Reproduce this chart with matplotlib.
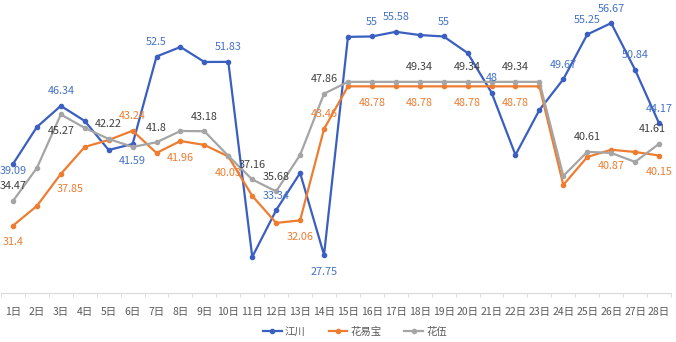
import matplotlib
matplotlib.use("Agg")
import matplotlib.pyplot as plt
import numpy as np

plt.rcParams['font.family'] = ['Noto Sans CJK SC', 'DejaVu Sans']

days = ["%d日" % d for d in range(1, 29)]
series_names = ["江川", "花易宝", "花伍"]

jiangchuan = [39.09, 43.71, 46.34, 44.46, 40.84, 41.59, 52.5, 53.69, 51.82, 51.83,
              27.5, 33.34, 37.97, 27.75, 54.95, 55.0, 55.58, 55.18, 55.0, 52.94,
              48.0, 40.22, 45.83, 49.67, 55.25, 56.67, 50.84, 44.17]
huayibao = [31.4, 33.86, 37.85, 41.22, 42.09, 43.24, 40.47, 41.96, 41.47, 40.03,
            35.11, 31.74, 32.06, 43.46, 48.78, 48.78, 48.78, 48.78, 48.78, 48.78,
            48.78, 48.78, 48.78, 36.48, 39.97, 40.87, 40.59, 40.15]
huawu = [34.47, 38.6, 45.27, 43.59, 42.22, 41.22, 41.8, 43.21, 43.18, 40.1,
         37.16, 35.68, 40.22, 47.86, 49.34, 49.34, 49.34, 49.34, 49.34, 49.34,
         49.34, 49.34, 49.34, 37.6, 40.61, 40.47, 39.35, 41.61]

# which days carry a data label (1-based day, 'a' above / 'b' below / 'n' near)
labels_jc = [(1, 'n'), (3, 'a'), (6, 'b'), (7, 'a'), (10, 'a'), (12, 'a'), (14, 'b'),
             (16, 'a'), (17, 'a'), (19, 'a'), (21, 'a'), (24, 'a'), (25, 'a'),
             (26, 'a'), (27, 'a'), (28, 'a')]
labels_hyb = [(1, 'b'), (3, 'r'), (6, 'a'), (8, 'b'), (10, 'b'), (13, 'b'), (14, 'a'),
              (16, 'b'), (18, 'b'), (20, 'b'), (22, 'b'), (26, 'b'), (28, 'b')]
labels_hw = [(1, 'a'), (3, 'b'), (5, 'a'), (7, 'a'), (9, 'a'), (11, 'a'), (12, 'a'),
             (14, 'a'), (18, 'a'), (20, 'a'), (22, 'a'), (25, 'a'), (28, 'l')]
offsets = {'a': (0, 10.5), 'b': (0, -12), 'n': (0, -5), 'r': (6.5, -10.5), 'l': (-4.5, 10.5)}

line_colors = ["#3B5FC0", "#ED7D31", "#A5A5A5"]
text_colors = ["#4472C4", "#ED7D31", "#404040"]

fig = plt.figure(figsize=(6.76, 3.42), dpi=100)
ax = fig.add_axes([1 / 676, 49 / 342, 670 / 676, 292.6 / 342])
x = np.arange(len(days))

for vals, lab, lc, tc, name in zip([jiangchuan, huayibao, huawu],
                                   [labels_jc, labels_hyb, labels_hw],
                                   line_colors, text_colors, series_names):
    ax.plot(x, vals, color=lc, lw=1.6, marker='o', ms=3.0, label=name, zorder=3)
    for d, pos in lab:
        v = vals[d - 1]
        ax.annotate("%g" % v, (d - 1, v), xytext=offsets[pos], textcoords='offset points',
                    ha='center', va='center', fontsize=7.8, color=tc, zorder=4)

ax.set_xlim(-0.5, 27.5)
ax.set_ylim(23.0, 59.5)
ax.set_yticks([])
for s in ['top', 'right', 'left']:
    ax.spines[s].set_visible(False)
ax.spines['bottom'].set_color('#D9D9D9')
ax.set_xticks(x)
ax.set_xticklabels(days, fontsize=7.5, color='#595959')
ax.tick_params(axis='x', which='major', length=0, pad=10)
ax.set_xticks(np.arange(-0.5, 28, 1), minor=True)
ax.tick_params(axis='x', which='minor', length=3, color='#D9D9D9')
ax.patch.set_alpha(0)

fig.legend(loc='center', bbox_to_anchor=(355 / 676, 10 / 342), ncol=3, frameon=False,
           fontsize=7.5, handlelength=1.8, columnspacing=2.2, handletextpad=0.3,
           labelcolor='#595959')

fig.savefig("out.png", dpi=100)
